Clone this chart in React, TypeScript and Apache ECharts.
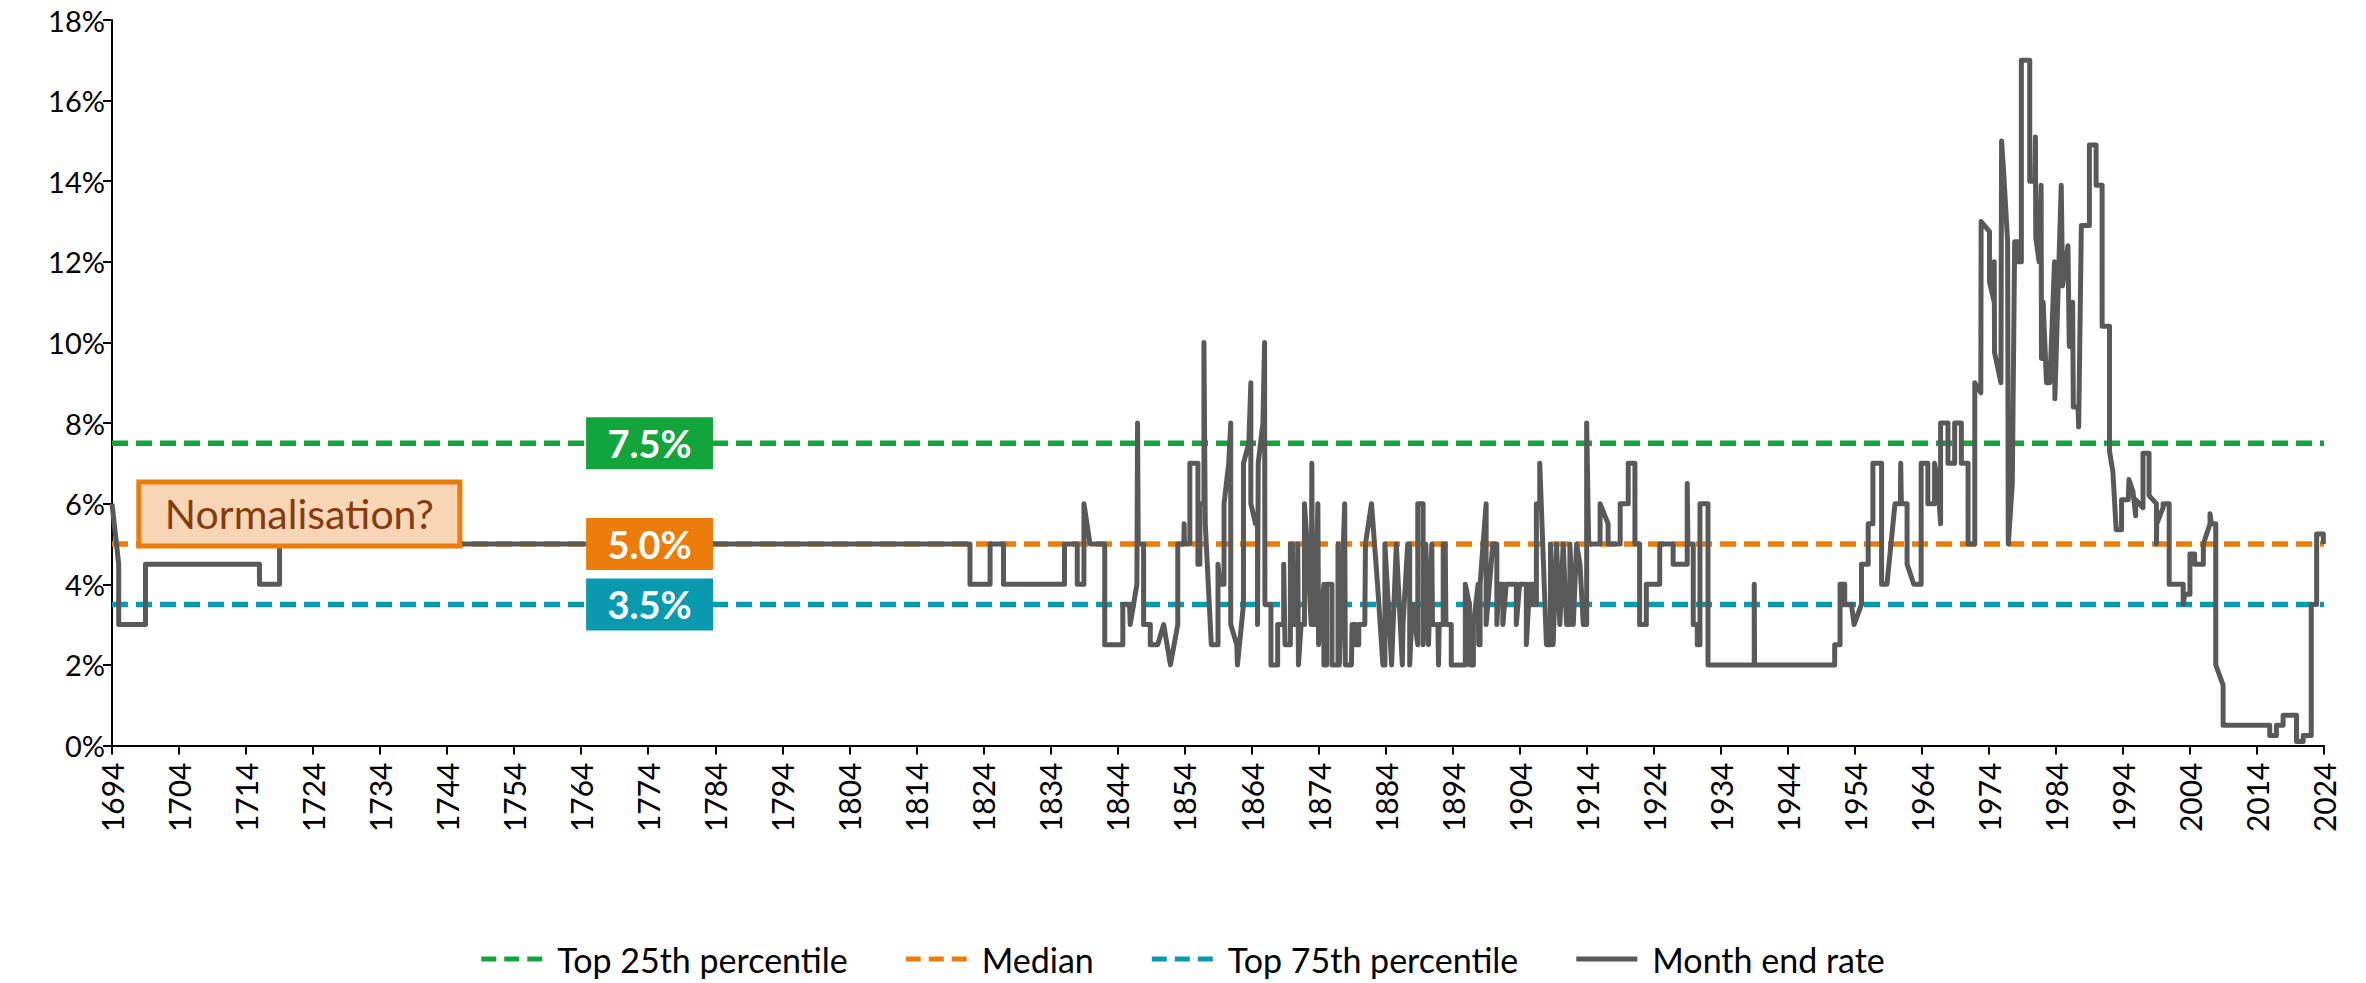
import { useEffect, useRef } from "react";
import * as echarts from "echarts";

// ---------- DATA ----------
const xTickStart = 1694;
const xTickEnd = 2024;
const xTickStep = 10;
const yTickMax = 18;
const yTickStep = 2;

const top25Level = 7.5;
const medianLevel = 5.0;
const top75Level = 3.5;

const seriesNames = ["Top 25th percentile", "Median", "Top 75th percentile", "Month end rate"];
const annotationText = "Normalisation?";

// Month end rate, traced vertices [year, rate %]
const rate1694to1844: [number, number][] = [
  [1694, 6], [1695, 4.5], [1695, 3], [1699, 3], [1699, 4.5], [1716, 4.5], [1716, 4], [1719, 4], [1719, 5],
  [1822, 5], [1822, 4], [1825, 4], [1825, 5], [1827, 5], [1827, 4], [1836.1, 4], [1836.1, 5], [1838, 5],
  [1838, 4], [1839, 4], [1839, 6], [1839.9, 5], [1842.1, 5], [1842.1, 2.5], [1844.8, 2.5],
];
const rate1844to1887: [number, number][] = [
  [1844.8, 3.5], [1845.8, 3.5], [1845.9, 3], [1846.9, 4], [1847.0, 4], [1847.0, 8], [1847.1, 5], [1847.9, 5],
  [1847.9, 3], [1848.9, 3], [1848.9, 2.5], [1850.0, 2.5], [1850.9, 3], [1851.9, 2], [1853.0, 3], [1853.0, 5],
  [1853.9, 5], [1853.95, 5.5], [1854.0, 5], [1854.8, 5], [1854.8, 7], [1856.0, 7], [1856.0, 4.5], [1856.3, 4.5],
  [1856.3, 6], [1856.9, 6], [1856.9, 10], [1857.0, 10], [1857.1, 5.5], [1858.0, 2.5], [1859.0, 2.5],
  [1859.0, 4.5], [1859.3, 4], [1859.9, 4], [1859.9, 6], [1860.6, 7], [1860.9, 8], [1860.9, 3], [1861.8, 2.5],
  [1861.9, 2], [1862.8, 3.5], [1862.8, 7], [1863.6, 7.5], [1863.9, 9], [1863.9, 6], [1864.6, 5.5],
  [1864.9, 5.5], [1864.9, 3], [1865.0, 3], [1865.0, 7], [1865.7, 8], [1865.95, 10], [1866.0, 10],
  [1866.0, 3.5], [1866.9, 3.5], [1866.9, 2], [1867.9, 2], [1867.9, 3], [1868.8, 3], [1868.8, 4.5],
  [1869.0, 2.5], [1869.8, 2.5], [1869.8, 5], [1870.1, 5], [1870.2, 3], [1870.8, 3], [1870.9, 5], [1871.0, 2],
  [1871.4, 3], [1871.9, 3], [1871.9, 6], [1872.3, 5], [1872.9, 3], [1873.0, 7], [1873.1, 3], [1873.5, 3],
  [1873.9, 6], [1874.0, 2.5], [1874.8, 4], [1874.8, 2], [1875.2, 2], [1875.2, 4], [1876.0, 4], [1876.0, 2],
  [1876.9, 2], [1876.9, 5], [1877.1, 2], [1877.9, 6], [1878.0, 2], [1878.9, 2], [1879.0, 3], [1879.5, 3],
  [1879.5, 2.5], [1880.0, 2.5], [1880.0, 3], [1880.9, 3], [1881.0, 5], [1881.9, 6], [1882.8, 4], [1883.2, 3],
  [1883.6, 2], [1883.9, 2], [1883.9, 5], [1884.9, 2], [1885.0, 2], [1885.6, 5], [1886.5, 2], [1886.6, 3],
  [1887.3, 5], [1887.6, 5],
];
const rate1887to1925: [number, number][] = [
  [1887.6, 2], [1888.0, 3.5], [1888.8, 2.5], [1888.8, 6], [1889.6, 6], [1889.6, 2.5], [1890.0, 5],
  [1890.4, 2.5], [1890.9, 5], [1891.0, 3], [1891.8, 3], [1891.9, 2], [1892.0, 3], [1892.6, 3], [1892.6, 5],
  [1892.9, 5], [1893.0, 3], [1893.8, 3], [1893.8, 2], [1895.9, 2], [1895.9, 4], [1896.5, 3.5], [1896.6, 2],
  [1897.1, 2], [1897.1, 3], [1897.8, 4], [1897.9, 2.5], [1898.1, 2.5], [1898.1, 4], [1899.0, 6], [1899.0, 3],
  [1899.5, 4], [1900.0, 5], [1900.6, 5], [1900.6, 3], [1900.9, 4], [1901.5, 4], [1901.5, 3], [1902.0, 4],
  [1903.5, 4], [1903.5, 3], [1904.0, 4], [1905.0, 4], [1905.0, 2.5], [1905.5, 4], [1906.0, 4], [1906.0, 3.5],
  [1906.5, 3.5], [1906.5, 6], [1907.0, 6], [1907.0, 7], [1908.0, 2.5], [1908.6, 2.5], [1908.6, 5],
  [1909.0, 2.5], [1909.5, 5], [1910.0, 3], [1910.5, 5], [1911.0, 3], [1911.5, 3], [1911.5, 5], [1912.0, 3],
  [1912.5, 5], [1913.0, 4.5], [1913.5, 3], [1914.0, 3], [1914.0, 8], [1914.3, 5], [1916.0, 5], [1916.0, 6],
  [1917.2, 5.5], [1917.2, 5], [1919.0, 5], [1919.0, 6], [1920.2, 6], [1920.2, 7], [1921.2, 7], [1921.2, 5],
  [1921.9, 5], [1921.9, 3], [1922.9, 3], [1922.9, 4], [1924.9, 4], [1924.9, 5],
];
const rate1925to1958: [number, number][] = [
  [1926.9, 5], [1926.9, 4.5], [1929.0, 4.5], [1929.0, 6.5], [1929.1, 5], [1929.9, 5], [1929.9, 3],
  [1930.5, 3], [1930.5, 2.5], [1930.9, 2.5], [1930.9, 6], [1932.1, 6], [1932.1, 2], [1939.0, 2], [1939.0, 4],
  [1939.05, 2], [1951.0, 2], [1951.0, 2.5], [1951.8, 2.5], [1951.8, 4], [1952.5, 4], [1952.5, 3.5],
  [1953.5, 3.5], [1953.9, 3], [1955.0, 3.5], [1955.0, 4.5], [1956.0, 4.5], [1956.0, 5.5], [1956.7, 5.5],
  [1956.7, 7], [1958.0, 7], [1958.0, 4],
];
const rate1958to1992: [number, number][] = [
  [1958.8, 4], [1960.0, 6], [1960.8, 6], [1960.85, 7], [1960.95, 6], [1961.8, 6], [1961.8, 4.5], [1962.8, 4],
  [1963.9, 4], [1963.9, 7], [1964.9, 7], [1964.9, 6], [1965.9, 6], [1965.9, 7], [1966.4, 6.5], [1966.8, 5.5],
  [1966.8, 8], [1967.9, 8], [1967.9, 7], [1968.9, 7], [1968.9, 8], [1969.9, 8], [1969.9, 7], [1970.9, 7],
  [1970.9, 5], [1971.9, 5], [1971.9, 9], [1972.8, 8.75], [1972.85, 13], [1974.1, 12.75], [1974.1, 11.5],
  [1974.8, 11], [1974.8, 12], [1974.85, 9.75], [1975.8, 9], [1975.9, 15], [1976.2, 14.25], [1976.8, 12.5],
  [1976.9, 5], [1977.5, 6.5], [1977.85, 12.5], [1978.35, 12.5], [1978.35, 12], [1978.85, 12], [1978.85, 17],
  [1980.1, 17], [1980.1, 14], [1980.85, 14], [1980.95, 15.1], [1981.0, 12.6], [1981.5, 12], [1981.8, 13.9],
  [1981.85, 9.6], [1982.1, 9.6], [1982.1, 11], [1982.6, 9], [1983.1, 9], [1983.8, 12], [1983.85, 8.6],
  [1984.8, 13.9], [1985.0, 11.4], [1985.8, 12.4], [1986.0, 9.9], [1986.5, 11], [1986.6, 8.4], [1987.3, 8.4],
  [1987.4, 7.9], [1987.8, 12.9], [1989.0, 12.9], [1989.0, 14.9], [1990.0, 14.9], [1990.0, 13.9],
  [1990.9, 13.9], [1990.9, 10.4], [1992.0, 10.4],
];
const rate1992to2024: [number, number][] = [
  [1992.0, 7.3], [1992.5, 6.8], [1993.0, 5.35], [1993.8, 5.35], [1993.8, 6.1], [1994.8, 6.1], [1994.9, 6.6],
  [1995.5, 6.3], [1995.9, 5.7], [1995.9, 6.1], [1997.0, 5.9], [1997.0, 7.25], [1997.9, 7.25], [1997.9, 6.2],
  [1999.0, 6.0], [1999.0, 5.0], [1999.05, 5.5], [2000.0, 5.9], [2000.0, 6.0], [2000.9, 6.0], [2000.9, 4.0],
  [2003.0, 4.0], [2003.0, 3.5], [2003.2, 3.75], [2004.0, 3.75], [2004.0, 4.75], [2004.7, 4.75], [2004.7, 4.5],
  [2006.0, 4.5], [2006.0, 5.0], [2007.0, 5.5], [2007.0, 5.75], [2007.2, 5.5], [2007.85, 5.5], [2007.85, 2.0],
  [2008.95, 1.5], [2008.95, 0.5], [2015.9, 0.5], [2015.9, 0.25], [2016.9, 0.25], [2016.9, 0.5], [2017.9, 0.5],
  [2017.9, 0.75], [2019.9, 0.75], [2019.9, 0.1], [2020.9, 0.1], [2020.9, 0.25], [2022.1, 0.25], [2022.1, 3.5],
  [2022.9, 3.5], [2022.9, 5.25], [2023.9, 5.25], [2023.9, 5.0],
];

// annotation placement (data coords)
const levelLabelYear = 1774.2;
const annotationBox: [[number, number], [number, number]] = [[1698.0, 4.95], [1745.9, 6.54]];

// ---------- STYLE ----------
const FONT = 'Lato, "Noto Sans", sans-serif';
const GREEN = "#12A53C";
const ORANGE = "#EC7C0A";
const TEAL = "#0A9AB0";
const GREY = "#595959";
const DASH_ICON = "path://M0,0h15v5h-15z M23,0h15v5h-15z M46,0h15v5h-15z";
const LINE_ICON = "path://M0,0h61v5h-61z";

export default function App() {
  const ref = useRef<HTMLDivElement>(null);
  useEffect(() => {
    if (!ref.current) return;
    const chart = echarts.init(ref.current, undefined, { renderer: "svg" });
    const monthEnd = [
      ...rate1694to1844,
      ...rate1844to1887,
      ...rate1887to1925,
      ...rate1925to1958,
      ...rate1958to1992,
      ...rate1992to2024,
    ];
    const dashed = (color: string) => ({ color, width: 5.5, type: [16, 8] as number[] });
    const levelLabel = (level: number, color: string) => ({
      symbol: "rect",
      symbolSize: [127, 52],
      z: 10,
      itemStyle: { color },
      label: {
        show: true,
        position: "inside",
        formatter: level.toFixed(1) + "%",
        color: "#ffffff",
        fontFamily: FONT,
        fontWeight: "bold",
        fontSize: 38,
      },
      data: [{ coord: [levelLabelYear, level] }],
    });
    chart.setOption({
      animation: false,
      backgroundColor: "#ffffff",
      textStyle: { fontFamily: FONT },
      grid: { left: 112, right: 42, top: 20, bottom: 237.5, containLabel: false },
      legend: {
        data: [
          { name: seriesNames[0], icon: DASH_ICON },
          { name: seriesNames[1], icon: DASH_ICON },
          { name: seriesNames[2], icon: DASH_ICON },
          { name: seriesNames[3], icon: LINE_ICON },
        ],
        left: "center",
        top: 937,
        itemWidth: 61,
        itemHeight: 14,
        itemGap: 58,
        textStyle: { fontFamily: FONT, fontSize: 34, color: "#000", padding: [0, 0, 0, 10] },
      },
      xAxis: {
        type: "value",
        min: xTickStart,
        max: xTickEnd,
        interval: xTickStep,
        splitLine: { show: false },
        axisLine: { show: true, lineStyle: { color: "#000", width: 2 } },
        axisTick: { show: true, length: 9, lineStyle: { color: "#000", width: 2 } },
        axisLabel: {
          rotate: 90,
          margin: 17,
          fontSize: 30,
          color: "#000",
          fontFamily: FONT,
          formatter: (v: number) => String(v),
        },
      },
      yAxis: {
        type: "value",
        min: 0,
        max: yTickMax,
        interval: yTickStep,
        splitLine: { show: false },
        axisLine: { show: true, lineStyle: { color: "#000", width: 2 } },
        axisTick: { show: true, length: 9, lineStyle: { color: "#000", width: 2 } },
        axisLabel: {
          margin: 7,
          fontSize: 29,
          color: "#000",
          fontFamily: FONT,
          formatter: "{value}%",
        },
      },
      series: [
        {
          name: seriesNames[0],
          type: "line",
          symbol: "none",
          z: 2,
          lineStyle: dashed(GREEN),
          itemStyle: { color: GREEN },
          data: [[xTickStart, top25Level], [xTickEnd, top25Level]],
          markPoint: levelLabel(top25Level, GREEN),
        },
        {
          name: seriesNames[1],
          type: "line",
          symbol: "none",
          z: 2,
          lineStyle: dashed(ORANGE),
          itemStyle: { color: ORANGE },
          data: [[xTickStart, medianLevel], [xTickEnd, medianLevel]],
          markPoint: levelLabel(medianLevel, ORANGE),
        },
        {
          name: seriesNames[2],
          type: "line",
          symbol: "none",
          z: 2,
          lineStyle: dashed(TEAL),
          itemStyle: { color: TEAL },
          data: [[xTickStart, top75Level], [xTickEnd, top75Level]],
          markPoint: levelLabel(top75Level, TEAL),
        },
        {
          name: seriesNames[3],
          type: "line",
          symbol: "none",
          z: 3,
          lineStyle: { color: GREY, width: 5, join: "round" },
          itemStyle: { color: GREY },
          data: monthEnd,
          markArea: {
            silent: true,
            z: 10,
            itemStyle: { color: "#F8D6B5", borderColor: ORANGE, borderWidth: 5 },
            label: {
              show: true,
              position: "inside",
              color: "#843C0C",
              fontFamily: FONT,
              fontSize: 41,
            },
            data: [
              [
                { name: annotationText, coord: annotationBox[0] },
                { coord: annotationBox[1] },
              ],
            ],
          },
        },
      ],
    });
    return () => chart.dispose();
  }, []);
  return (
    <div
      ref={ref}
      style={{ position: "fixed", left: 0, top: 0, width: 2366, height: 983, background: "#fff" }}
    />
  );
}
